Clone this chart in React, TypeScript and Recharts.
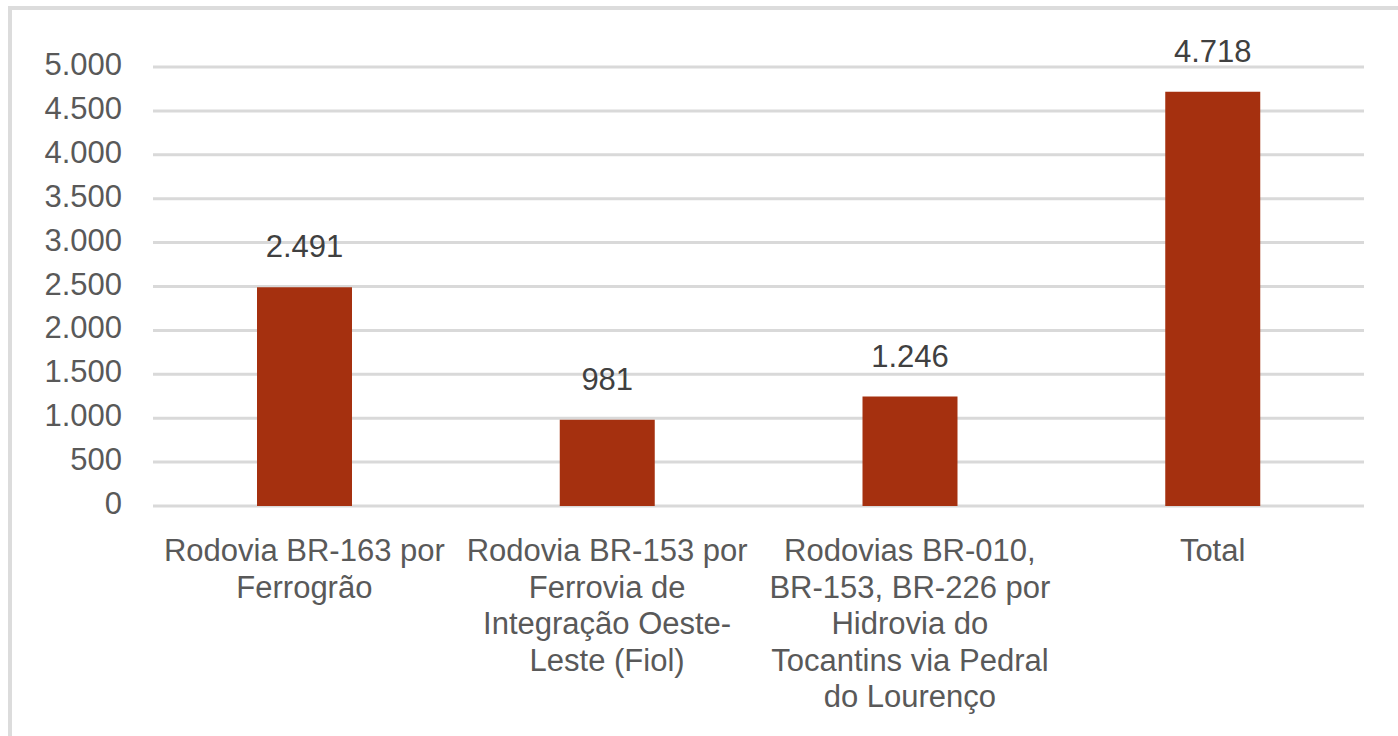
import React from 'react';
import { BarChart, Bar, XAxis, YAxis, CartesianGrid, LabelList } from 'recharts';

// Categories (line breaks follow the original wrapping)
const categories = [
  'Rodovia BR-163 por\nFerrogrão',
  'Rodovia BR-153 por\nFerrovia de\nIntegração Oeste-\nLeste (Fiol)',
  'Rodovias BR-010,\nBR-153, BR-226 por\nHidrovia do\nTocantins via Pedral\ndo Lourenço',
  'Total',
];
const values = [2491, 981, 1246, 4718];
const yTicks = [0, 500, 1000, 1500, 2000, 2500, 3000, 3500, 4000, 4500, 5000];

const data = categories.map((name, i) => ({ name, value: values[i] }));

const FONT = '"Liberation Sans", Arial, sans-serif';
const fmt = (v: number) => v.toLocaleString('pt-BR');

const CategoryTick = (props: any) => {
  const { x, y, payload } = props;
  const lines = String(payload.value).split('\n');
  return (
    <text x={x} y={y} textAnchor="middle" fill="#595959" fontSize={31} fontFamily={FONT}>
      {lines.map((line, i) => (
        <tspan key={i} x={x} y={y + 47 + i * 36.5}>
          {line}
        </tspan>
      ))}
    </text>
  );
};

export default function App() {
  return (
    <div
      style={{
        position: 'absolute',
        left: 8,
        top: 6,
        width: 1390,
        height: 730,
        background: '#fff',
        borderLeft: '4px solid #dcdcdc',
        borderTop: '4px solid #dcdcdc',
      }}
    >
      <BarChart
        width={1386}
        height={726}
        data={data}
        margin={{ top: 57, right: 34, left: 0, bottom: 0 }}
        barCategoryGap="34%"
      >
        <CartesianGrid vertical={false} stroke="#d9d9d9" strokeWidth={3} />
        <XAxis
          dataKey="name"
          axisLine={false}
          tickLine={false}
          height={230}
          interval={0}
          tick={<CategoryTick />}
        />
        <YAxis
          width={141}
          domain={[0, 5000]}
          ticks={yTicks}
          axisLine={false}
          tickLine={false}
          tickSize={0}
          tickMargin={31}
          tickFormatter={fmt}
          tick={{ fill: '#595959', fontSize: 31, fontFamily: FONT, dy: -3 }}
        />
        <Bar dataKey="value" fill="#A5300F" barSize={95} isAnimationActive={false}>
          <LabelList
            dataKey="value"
            position="top"
            offset={30}
            formatter={(v: any) => fmt(Number(v))}
            fill="#404040"
            fontSize={31}
            fontFamily={FONT}
          />
        </Bar>
      </BarChart>
    </div>
  );
}
